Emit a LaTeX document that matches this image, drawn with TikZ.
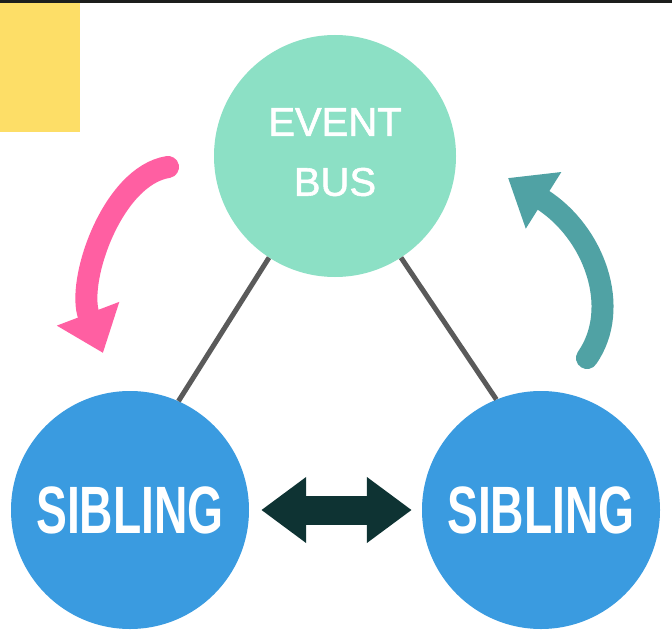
\documentclass[tikz,border=0pt]{standalone}
\usepackage{fontspec}
\usepackage{tikz}
\usetikzlibrary{arrows.meta}
\usetikzlibrary{positioning}

\newfontfamily\busfont[FakeBold=1.4]{Liberation Sans}
\newfontfamily\sibfont[FakeStretch=0.69]{Liberation Sans}

\definecolor{busgreen}{HTML}{8CE0C5}
\definecolor{sibblue}{HTML}{3A9BE0}
\definecolor{pinkarrow}{HTML}{FF5FA2}
\definecolor{tealarrow}{HTML}{50A2A4}
\definecolor{darkarrow}{HTML}{0E3333}
\definecolor{stickyyellow}{HTML}{FDDE67}
\definecolor{linkgray}{HTML}{5A5A5A}
\definecolor{topbar}{HTML}{1C1E1C}

\begin{document}
\begin{tikzpicture}[x=1pt,y=-1pt,
  bubble/.style={circle,inner sep=0pt,text=white},
  sibling/.style={bubble,fill=sibblue,minimum size=238pt,
    font=\sibfont\bfseries\fontsize{67}{70}\selectfont},
  link/.style={draw=linkgray,line width=5pt},
  turn/.style={line width=22pt,line cap=round,
    -{Triangle[length=42pt,width=64pt]}}
]
  \useasboundingbox[fill=white] (0,0) rectangle (672,642);
  \fill[topbar] (0,0) rectangle (672,3);
  \fill[stickyyellow] (0,3) rectangle (80,132);

  \node[bubble,fill=busgreen,minimum size=242pt,align=center,text depth=8pt,
    font=\busfont\fontsize{40}{60}\selectfont] (bus) at (335,156) {EVENT\\BUS};
  \node[sibling] (lsib) at (130,510) {SIBLING};
  \node[sibling] (rsib) at (541,510) {SIBLING};

  \draw[link] (bus.-123) -- (lsib.66);
  \draw[link] (bus.-57) -- (rsib.112);

  \draw[darkarrow,line width=29pt,
    {Triangle[length=45pt,width=63pt]}-{Triangle[length=45pt,width=63pt]},
    shorten <=12pt,shorten >=10pt] (lsib) -- (rsib);

  % curved arrows beside the bus
  \coordinate (pinkstart) at (168,167);
  \coordinate (pinktip) at (103,353);
  \draw[turn,pinkarrow] (pinkstart) .. controls (112,176) and (76,282) .. (pinktip);
  \coordinate (tealstart) at (587,358);
  \coordinate (tealtip) at (508,178);
  \draw[turn,tealarrow] (tealstart) .. controls (622,308) and (594,232) .. (tealtip);
\end{tikzpicture}
\end{document}
